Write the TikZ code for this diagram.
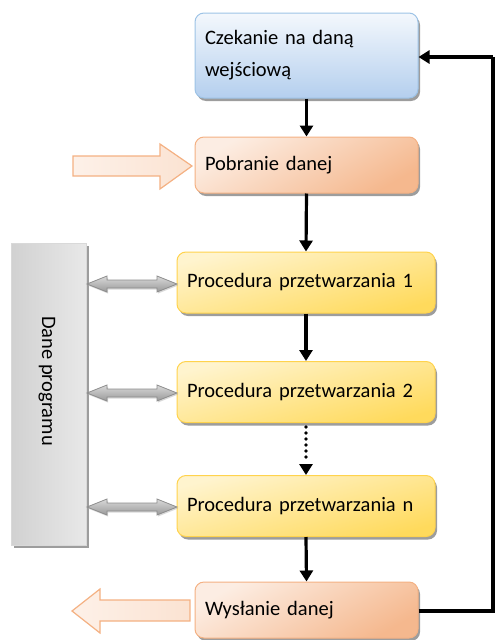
\documentclass[tikz,border=0pt]{standalone}
\usepackage{fontspec}
\setmainfont{Carlito}
\usetikzlibrary{arrows.meta,shadows}
\definecolor{bluefill}{HTML}{B4CFEE}
\definecolor{blueline}{HTML}{9DC3E6}
\definecolor{orangefill}{HTML}{F5B88E}
\definecolor{orangeline}{HTML}{F4B183}
\definecolor{yellowfill}{HTML}{FFDA5C}
\definecolor{yellowline}{HTML}{FFD34D}
\tikzset{
  box/.style={rounded corners=9pt, line width=1pt, align=left, inner xsep=10pt,
    font=\fontsize{20.5}{32}\selectfont, text=black,
    drop shadow={shadow xshift=2pt, shadow yshift=-3pt, fill=black!55, opacity=.7}},
  bluebox/.style={box, draw=blueline, top color=white!85!bluefill, bottom color=bluefill},
  orangebox/.style={box, draw=orangeline, top color=orangefill, bottom color=white!75!orangefill, shading angle=-150},
  yellowbox/.style={box, draw=yellowline, top color=yellowfill, bottom color=white!70!yellowfill, shading angle=-165},
  flow/.style={line width=3.2pt, -{Triangle[length=11pt,width=13pt]}},
  loopline/.style={line width=3.2pt},
  dbl/.style={draw=black!45, line width=0.8pt, top color=black!15, bottom color=black!40,
    drop shadow={shadow xshift=1pt, shadow yshift=-1.5pt, fill=black!30, opacity=.5}},
  blockarrow/.style={draw=orangeline, line width=1.2pt, left color=white!80!orangefill, right color=white!60!orangefill},
}
\begin{document}
\begin{tikzpicture}[x=1pt,y=-1pt]
\useasboundingbox (0,0) rectangle (495,640);
% data box
\node[draw=black!15, line width=0.8pt, left color=black!18, right color=black!9,
  minimum width=75pt, minimum height=302pt, inner sep=0pt,
  drop shadow={shadow xshift=3pt, shadow yshift=-3pt, fill=black!55, opacity=.7}]
  (dane) at (48.5,394) {};
\node[rotate=-90, font=\fontsize{20.5}{24}\selectfont] (danetxt) at (47,381) {Dane programu};
% boxes
\node[bluebox, minimum width=223pt, minimum height=85pt, text width=203pt] (czek) at (306.5,55.5) {Czekanie na daną\\wejściową};
\node[orangebox, minimum width=223pt, minimum height=56pt, text width=203pt] (pobr) at (306.5,165) {Pobranie danej};
\node[yellowbox, minimum width=258pt, minimum height=61pt, text width=238pt] (p1) at (306,282.5) {Procedura przetwarzania 1};
\node[yellowbox, minimum width=258pt, minimum height=61pt, text width=238pt] (p2) at (306,392) {Procedura przetwarzania 2};
\node[yellowbox, minimum width=258pt, minimum height=61pt, text width=238pt] (pn) at (306,506) {Procedura przetwarzania n};
\node[orangebox, minimum width=223pt, minimum height=56pt, text width=203pt] (wys) at (306.5,610) {Wysłanie danej};
% flow arrows
\draw[flow] (czek.south) -- (pobr.north);
\draw[flow] (pobr.south) -- (p1.north);
\draw[flow] (p1.south) -- (p2.north);
\coordinate (dotend) at ([yshift=11pt]pn.north);
\draw[line width=3.6pt, line cap=round, dash pattern=on 0pt off 6pt] ([yshift=-4pt]p2.south) -- ([yshift=3pt]dotend);
\draw[flow] (dotend) -- (pn.north);
\draw[flow] (pn.south) -- (wys.north);
\coordinate (lb) at (493,611);
\coordinate (lt) at (493,57);
\draw[loopline] (wys.east |- lb) -- (lb) -- (lt);
\draw[flow] (lt) -- (czek.east |- lt);
% input / output block arrows
\draw[blockarrow] (73,156) -- (160,156) -- (160,144) -- (192,166) -- (160,189) -- (160,176) -- (73,176) -- cycle;
\draw[blockarrow] (190,600) -- (100,600) -- (100,589) -- (72,611) -- (100,633) -- (100,621) -- (190,621) -- cycle;
% double arrows
\foreach \yy in {284,393,507}{
  \draw[dbl] (87,\yy) -- (107,\yy-8) -- (107,\yy-4) -- (157,\yy-4) -- (157,\yy-8) -- (177,\yy)
     -- (157,\yy+8) -- (157,\yy+4) -- (107,\yy+4) -- (107,\yy+8) -- cycle;
}
\end{tikzpicture}
\end{document}
